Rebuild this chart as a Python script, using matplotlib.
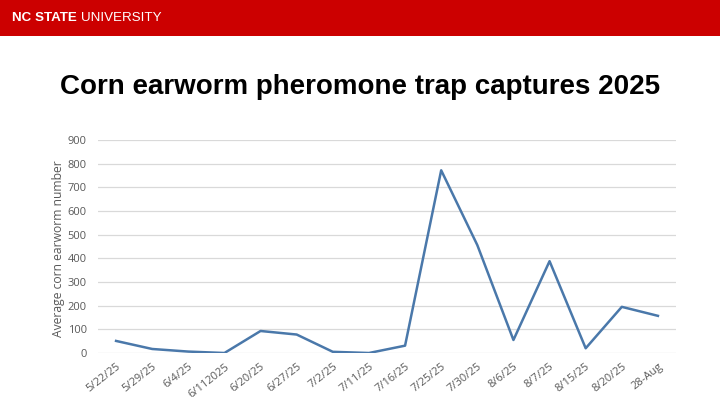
import matplotlib.pyplot as plt
from matplotlib.patches import Rectangle

# trap dates and average captures
dates = ['5/22/25', '5/29/25', '6/4/25', '6/112025', '6/20/25', '6/27/25', '7/2/25',
         '7/11/25', '7/16/25', '7/25/25', '7/30/25', '8/6/25', '8/7/25', '8/15/25',
         '8/20/25', '28-Aug']
captures = [51, 17, 6, 0, 93, 78, 5, 0, 31, 772, 456, 55, 388, 20, 195, 157]
yticks = [0, 100, 200, 300, 400, 500, 600, 700, 800, 900]

fig = plt.figure(figsize=(7.2, 4.05), dpi=100)

# red banner
fig.patches.append(Rectangle((0, 1 - 36 / 405), 1, 36 / 405, transform=fig.transFigure,
                             facecolor='#cc0000', edgecolor='none'))
fig.text(12 / 720, 1 - 18 / 405, 'NC STATE', color='white', fontsize=9.6,
         fontweight='bold', family='Liberation Sans', va='center')
fig.text(81 / 720, 1 - 18 / 405, 'UNIVERSITY', color='white', fontsize=9.6,
         family='Liberation Sans', va='center')

fig.text(0.5, 1 - 87 / 405, 'Corn earworm pheromone trap captures 2025', ha='center',
         va='center', fontsize=20, fontweight='bold', family='Liberation Sans')

ax = fig.add_axes([98 / 720, 1 - 353 / 405, 578 / 720, 213 / 405])
x = list(range(len(dates)))
ax.plot(x, captures, color='#4a78aa', linewidth=1.8)
ax.set_xlim(-0.5, len(dates) - 0.5)
ax.set_ylim(0, 900)
ax.set_yticks(yticks)
ax.set_xticks(x)
ax.set_xticklabels(dates, rotation=38, ha='right', rotation_mode='anchor')
ax.grid(axis='y', color='#d9d9d9', linewidth=0.9)
ax.set_axisbelow(True)
for s in ax.spines.values():
    s.set_visible(False)
ax.tick_params(length=0, colors='#595959', labelsize=8)
ax.tick_params(axis='x', pad=6)
ax.tick_params(axis='y', pad=8)
for lab in ax.get_xticklabels() + ax.get_yticklabels():
    lab.set_family('Open Sans')
ax.set_ylabel('Average corn earworm number', color='#595959', fontsize=8.7,
              family='Open Sans', labelpad=2, y=0.49)

fig.savefig('out.png', dpi=100)
